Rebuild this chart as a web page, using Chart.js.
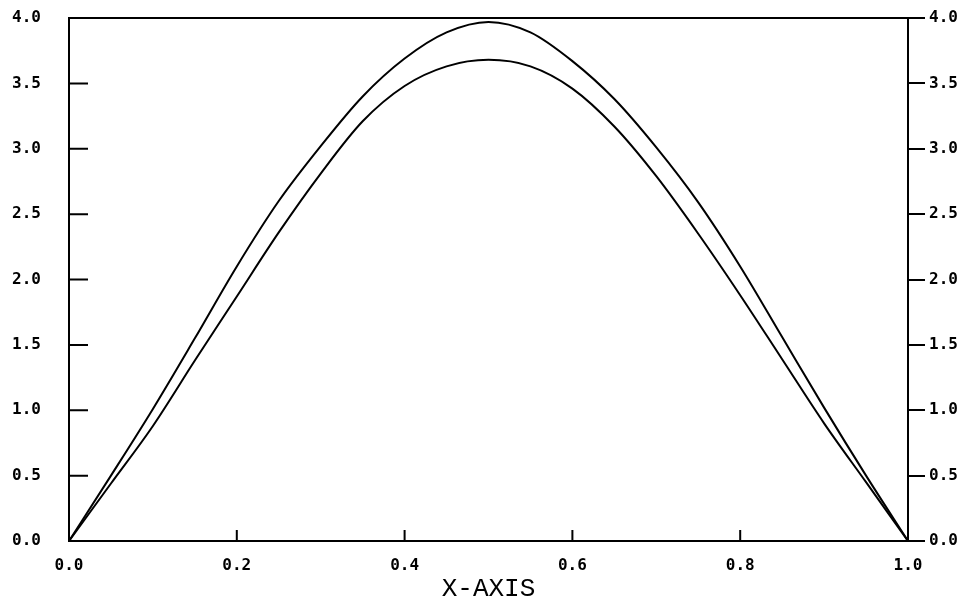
<!DOCTYPE html>
<html>
<head>
<meta charset="utf-8">
<script src="https://cdn.jsdelivr.net/npm/chart.js@4/dist/chart.umd.min.js"></script>
<style>
  html, body { margin: 0; padding: 0; background: #fff; }
  #wrap { width: 965px; height: 599px; }
</style>
</head>
<body>
<div id="wrap"><canvas id="plot" width="965" height="599"></canvas></div>
<script>
  /* ── Data ── */
  const X_VALUES = [0, 0.05, 0.1, 0.15, 0.2, 0.25, 0.3, 0.35, 0.4, 0.45, 0.5,
                    0.55, 0.6, 0.65, 0.7, 0.75, 0.8, 0.85, 0.9, 0.95, 1.0];
  const UPPER = [0, 0.50, 1.01, 1.55, 2.10, 2.60, 3.02, 3.40, 3.69, 3.89, 3.97,
                 3.89, 3.67, 3.38, 3.01, 2.59, 2.10, 1.56, 1.02, 0.50, 0];
  const LOWER = [0, 0.44, 0.88, 1.38, 1.87, 2.36, 2.81, 3.21, 3.48, 3.63, 3.68,
                 3.63, 3.46, 3.17, 2.79, 2.35, 1.88, 1.39, 0.90, 0.45, 0];
  const X_TICKS = [0, 0.2, 0.4, 0.6, 0.8, 1.0];
  const Y_TICKS = [0, 0.5, 1.0, 1.5, 2.0, 2.5, 3.0, 3.5, 4.0];
  const X_TITLE = 'X-AXIS';

  const tickFont = { family: "'DejaVu Sans Mono', monospace", size: 16, weight: 'bold' };

  function points(ys) {
    return X_VALUES.map((x, i) => ({ x: x, y: ys[i] }));
  }

  // frame, inward tick marks on the left and bottom, axis title
  const frame = {
    id: 'frame',
    afterDraw(chart) {
      const { ctx, chartArea: a, scales } = chart;
      ctx.save();
      ctx.strokeStyle = '#000';
      ctx.lineWidth = 2;
      ctx.strokeRect(a.left, a.top, a.right - a.left, a.bottom - a.top);
      ctx.beginPath();
      Y_TICKS.forEach(v => {
        const y = scales.y.getPixelForValue(v);
        ctx.moveTo(a.left, y);
        ctx.lineTo(a.left + 19, y);
      });
      X_TICKS.forEach(v => {
        const x = scales.x.getPixelForValue(v);
        ctx.moveTo(x, a.bottom);
        ctx.lineTo(x, a.bottom - 11);
      });
      ctx.stroke();

      ctx.fillStyle = '#000';
      ctx.font = "26px 'Liberation Mono', monospace";
      ctx.textAlign = 'center';
      ctx.textBaseline = 'alphabetic';
      ctx.fillText(X_TITLE, (a.left + a.right) / 2, 596);
      ctx.restore();
    }
  };

  function fixY(width) {
    return s => { s.width = width; s.paddingTop = 18; s.paddingBottom = 0; };
  }

  new Chart(document.getElementById('plot'), {
    type: 'line',
    data: {
      datasets: [
        { data: points(UPPER), borderColor: '#000', borderWidth: 2, pointRadius: 0, cubicInterpolationMode: 'monotone' },
        { data: points(LOWER), borderColor: '#000', borderWidth: 2, pointRadius: 0, cubicInterpolationMode: 'monotone' }
      ]
    },
    options: {
      responsive: false,
      animation: false,
      layout: { padding: 0 },
      plugins: { legend: { display: false }, tooltip: { enabled: false } },
      scales: {
        x: {
          type: 'linear',
          min: 0, max: 1,
          afterBuildTicks: s => { s.ticks = X_TICKS.map(v => ({ value: v })); },
          afterFit: s => { s.height = 58; },
          grid: { display: false },
          border: { display: false },
          ticks: {
            color: '#000', font: tickFont, padding: 7, maxRotation: 0,
            callback: v => v.toFixed(1)
          }
        },
        y: {
          position: 'left',
          min: 0, max: 4,
          afterBuildTicks: s => { s.ticks = Y_TICKS.map(v => ({ value: v })); },
          afterFit: fixY(69),
          grid: { display: false },
          border: { display: false },
          ticks: { color: '#000', font: tickFont, padding: 20, callback: v => v.toFixed(1) }
        },
        y2: {
          position: 'right',
          min: 0, max: 4,
          afterBuildTicks: s => { s.ticks = Y_TICKS.map(v => ({ value: v })); },
          afterFit: fixY(57),
          grid: { drawOnChartArea: false, drawTicks: true, tickLength: 17, color: '#000', lineWidth: 2 },
          border: { display: true, color: '#000', width: 2 },
          ticks: { color: '#000', font: tickFont, padding: 4, callback: v => v.toFixed(1) }
        }
      }
    },
    plugins: [frame]
  });
</script>
</body>
</html>
